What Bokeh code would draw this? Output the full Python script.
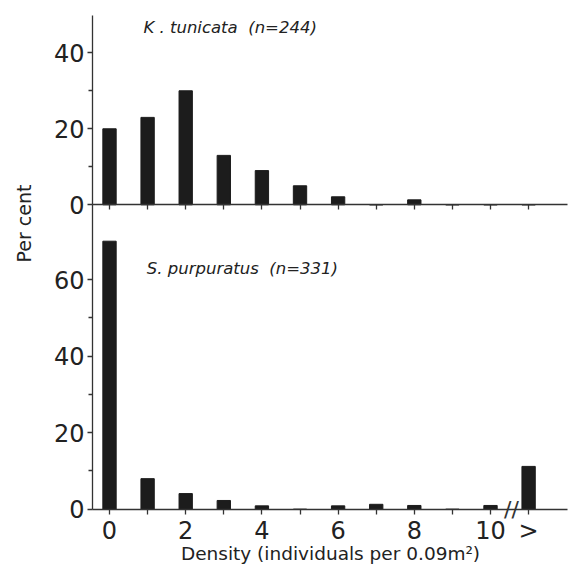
from math import pi
from bokeh.plotting import figure
from bokeh.models import Range1d, LinearAxis, FixedTicker, Label
from bokeh.embed import file_html
from bokeh.resources import INLINE

# ---- data ----
density = [0, 1, 2, 3, 4, 5, 6, 7, 8, 9, 10, 11]
labelled_ticks = [0, 2, 4, 6, 8, 10, 11]
labelled_tick_text = ["0", "2", "4", "6", "8", "10", ">"]
unlabelled_ticks = [1, 3, 5, 7, 9]
k_tunicata_pct = [20, 23, 30, 13, 9, 5, 2.1, 0, 1.3, 0, 0, 0]
s_purpuratus_pct = [70, 8, 4.1, 2.3, 0.9, 0, 0.9, 1.3, 1.0, 0, 1.0, 11.2]
top_yticks = [0, 20, 40]
top_yminor = [10, 30]
bot_yticks = [0, 20, 40, 60]
bot_yminor = [10, 30, 50]
k_title = "K\u00a0.\u00a0tunicata\u00a0\u00a0(n=244)"
s_title = "S.\u00a0purpuratus\u00a0\u00a0(n=331)"
x_title = "Density (individuals per 0.09m\u00b2)"
y_title = "Per cent"

FONT = "DejaVu Sans"
INK = "#222222"
BAR = "#1c1c1c"
AX = "#333333"

# whole canvas is the frame; axes are drawn at fixed data locations
X_START, X_END = -2.861, 12.047
AXIS_X = -0.446
AXIS_X_END = 12.02
p = figure(width=568, height=567, output_backend="svg", toolbar_location=None,
           x_range=Range1d(X_START, X_END), y_range=Range1d(-15.20, 132.85),
           x_axis_type=None, y_axis_type=None,
           min_border_left=0, min_border_right=0, min_border_top=0, min_border_bottom=0)
p.extra_y_ranges = {"top": Range1d(-95.45, 53.76)}
p.outline_line_color = None
p.xgrid.visible = False
p.ygrid.visible = False
p.background_fill_color = "white"
p.border_fill_color = "white"


def style(ax, minor_out=4):
    ax.axis_line_color = AX
    ax.axis_line_width = 1.3
    ax.major_tick_line_color = AX
    ax.major_tick_line_width = 1.3
    ax.major_tick_in = 0
    ax.major_tick_out = 5
    ax.minor_tick_line_color = AX
    ax.minor_tick_line_width = 1.3
    ax.minor_tick_in = 0
    ax.minor_tick_out = minor_out
    ax.major_label_text_font = FONT
    ax.major_label_text_font_size = "24px"
    ax.major_label_text_color = INK


# bottom panel y axis
ay_bot = LinearAxis(fixed_location=AXIS_X,
                    ticker=FixedTicker(ticks=bot_yticks, minor_ticks=bot_yminor),
                    bounds=(0, 79.5), major_label_standoff=3)
style(ay_bot)
p.add_layout(ay_bot, "left")

# top panel y axis
ay_top = LinearAxis(y_range_name="top", fixed_location=AXIS_X,
                    ticker=FixedTicker(ticks=top_yticks, minor_ticks=top_yminor),
                    bounds=(0, 49.8), major_label_standoff=3)
style(ay_top)
p.add_layout(ay_top, "left")

# top panel baseline (tick marks only)
ax_top = LinearAxis(y_range_name="top", fixed_location=0, bounds=(AXIS_X, AXIS_X_END),
                    ticker=FixedTicker(ticks=[], minor_ticks=density))
style(ax_top, minor_out=5)
p.add_layout(ax_top, "below")

# bottom x axis
ax_bot = LinearAxis(fixed_location=0, bounds=(AXIS_X, AXIS_X_END),
                    ticker=FixedTicker(ticks=labelled_ticks, minor_ticks=unlabelled_ticks),
                    major_label_overrides={d: t for d, t in zip(labelled_ticks, labelled_tick_text)},
                    major_label_standoff=3)
style(ax_bot, minor_out=5)
p.add_layout(ax_bot, "below")

# bars
p.vbar(x=density, top=k_tunicata_pct, bottom=0, width=0.35, y_range_name="top",
       fill_color=BAR, line_color=BAR)
p.vbar(x=density, top=s_purpuratus_pct, bottom=0, width=0.35,
       fill_color=BAR, line_color=BAR)

# annotations
p.add_layout(Label(x=0.89, y=46.7, y_range_name="top", text=k_title,
                   text_font=FONT, text_font_style="italic", text_font_size="16.5px",
                   text_color=INK, text_baseline="middle"))
p.add_layout(Label(x=0.98, y=62.9, text=s_title,
                   text_font=FONT, text_font_style="italic", text_font_size="16.5px",
                   text_color=INK, text_baseline="middle"))
p.add_layout(Label(x=AXIS_X, y=74.6, x_offset=-69, text=y_title, angle=pi / 2,
                   text_font=FONT, text_font_size="19px", text_color=INK,
                   text_align="center", text_baseline="middle"))
p.add_layout(Label(x=5.8, y=0, y_offset=-44, text=x_title,
                   text_font=FONT, text_font_size="18.5px", text_color=INK,
                   text_align="center", text_baseline="middle"))
p.add_layout(Label(x=10.55, y=0, text="//", text_font=FONT, text_font_size="22px",
                   text_color=AX, text_align="center", text_baseline="middle"))

open("out.html", "w").write(file_html(p, INLINE))
